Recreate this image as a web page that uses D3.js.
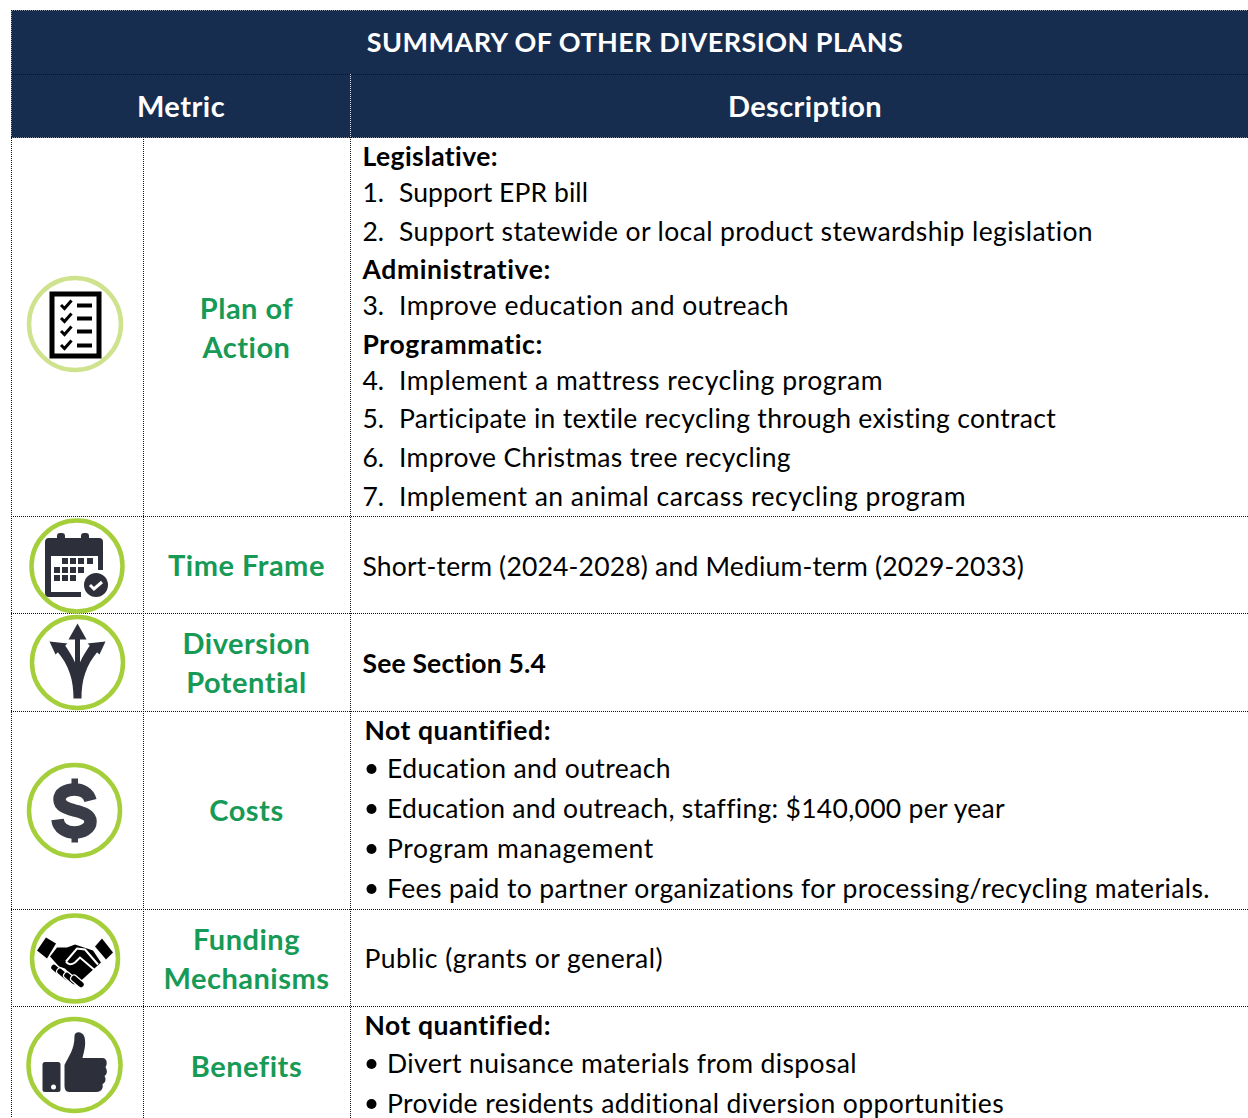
<!DOCTYPE html>
<html>
<head>
<meta charset="utf-8">
<script src="https://cdn.jsdelivr.net/npm/d3@7"></script>
<style>
  html, body { margin: 0; padding: 0; background: #fff; overflow: hidden; }
  text { font-family: Lato, "Open Sans", sans-serif; font-variant-ligatures: none; }
</style>
</head>
<body>
<script>
// table content
const titleText = "SUMMARY OF OTHER DIVERSION PLANS";
const headerLabels = ["Metric", "Description"];
const rowNames = ["plan", "time", "diversion", "costs", "funding", "benefits"];
const metricLabels = [
  ["Plan of", "Action"],
  ["Time Frame"],
  ["Diversion", "Potential"],
  ["Costs"],
  ["Funding", "Mechanisms"],
  ["Benefits"]
];
const planLines = ["Legislative:", "Support EPR bill", "Support statewide or local product stewardship legislation",
  "Administrative:", "Improve education and outreach", "Programmatic:", "Implement a mattress recycling program",
  "Participate in textile recycling through existing contract", "Improve Christmas tree recycling",
  "Implement an animal carcass recycling program"];
const planMarkers = ["", "1.", "2.", "", "3.", "", "4.", "5.", "6.", "7."];
const timeLines = ["Short-term (2024-2028) and Medium-term (2029-2033)"];
const diversionLines = ["See Section 5.4"];
const costLines = ["Not quantified:", "Education and outreach", "Education and outreach, staffing: $140,000 per year",
  "Program management", "Fees paid to partner organizations for processing/recycling materials."];
const fundingLines = ["Public (grants or general)"];
const benefitLines = ["Not quantified:", "Divert nuisance materials from disposal", "Provide residents additional diversion opportunities"];
const boldLines = ["Legislative:", "Administrative:", "Programmatic:", "See Section 5.4", "Not quantified:"];

// layout
const W = 1248, H = 1118;
const navy = "#172d50", green = "#169a55", ring = "#a4cf3a", ink = "#2d303a";
const left = 11.5, colIcon = 143.5, colDesc = 350.5;
const titleTop = 10.5, headTop = 74.5, bodyTop = 137.5;
const rowTop = d3.scaleOrdinal().domain(rowNames).range([137.5, 516.5, 613.5, 711.5, 909.5, 1006.5]);
const metricX = 246.5;
const metricY = d3.scaleOrdinal().domain(rowNames).range([[309, 348], [566], [644, 683], [811], [940, 979], [1067]]);

// ys = line centres, ends = right edge of each line, so widths follow the reference font
const descRows = [
  {lines: planLines, ys: [157, 193, 232, 270, 306, 345, 381, 419, 458, 497], x: 362.5, tx: 399, markers: planMarkers,
    ends: [498, 588, 1093, 551, 789, 543, 883, 1056, 791, 966]},
  {lines: timeLines, ys: [567], x: 362.5, ends: [1024]},
  {lines: diversionLines, ys: [664], x: 362.5, ends: [546]},
  {lines: costLines, ys: [731, 769, 809, 849, 889], x: 364.5, tx: 387, bullets: true, ends: [551, 671, 1005, 654, 1210]},
  {lines: fundingLines, ys: [959], x: 364.5, ends: [663]},
  {lines: benefitLines, ys: [1026, 1064, 1104], x: 364.5, tx: 387, bullets: true, ends: [551, 857, 1004]}
];

const svg = d3.select("body").append("svg").attr("width", W).attr("height", H).style("display", "block");

// header bands
svg.append("rect").attr("x", left).attr("y", titleTop).attr("width", W - left).attr("height", bodyTop - titleTop).attr("fill", navy);

// dotted rules, dash starts on a whole pixel so the dots stay crisp
function rule(x1, y1, x2, y2, color) {
  svg.append("line")
    .attr("x1", y1 === y2 ? Math.floor(x1) : x1).attr("y1", x1 === x2 ? Math.floor(y1) : y1)
    .attr("x2", x2).attr("y2", y2)
    .attr("stroke", color || "#111").attr("stroke-width", 1).attr("stroke-dasharray", "1,1");
}
[titleTop, headTop, bodyTop].forEach(y => rule(left, y, W, y));
rowNames.slice(1).forEach(r => rule(left, rowTop(r), W, rowTop(r)));
rule(left, titleTop, left, H);
rule(colDesc, headTop, colDesc, bodyTop, "#dde");
rule(colDesc, bodyTop, colDesc, H);
rule(colIcon, bodyTop, colIcon, H);

// text helper
function label(x, y, str, size, weight, fill, anchor, spacing) {
  return svg.append("text").attr("x", x).attr("y", y).attr("dy", "0.35em")
    .attr("font-size", size).attr("font-weight", weight).attr("fill", fill)
    .attr("letter-spacing", spacing || 0)
    .attr("text-anchor", anchor || "start").text(str);
}
label(635, 43, titleText, 27, 700, "#fff", "middle", 0.45);
label(181, 107, headerLabels[0], 29, 700, "#fff", "middle", 0.5);
label(805, 107, headerLabels[1], 29, 700, "#fff", "middle", 0.4);

// metric names
rowNames.forEach((r, i) => {
  metricLabels[i].forEach((t, j) => label(metricX, metricY(r)[j], t, 29, 700, green, "middle", 0.5));
});

// description cells
descRows.forEach(row => {
  row.lines.forEach((t, i) => {
    const bold = boldLines.includes(t);
    const marker = row.markers ? row.markers[i] : "";
    if (marker) label(row.x, row.ys[i], marker, 26.5, 400, "#000");
    if (row.bullets && !bold) {
      svg.append("circle").attr("cx", row.x + 7).attr("cy", row.ys[i]).attr("r", 5).attr("fill", "#000");
    }
    const x = bold || !row.tx ? row.x : row.tx;
    const line = label(x, row.ys[i], t, 26.5, bold ? 700 : 400, "#000");
    const natural = line.node().getComputedTextLength();
    line.attr("letter-spacing", (row.ends[i] - x - natural) / t.length);
  });
});

// icons
function badge(cx, cy, r, color) {
  svg.append("circle").attr("cx", cx).attr("cy", cy).attr("r", r).attr("fill", "#fff")
    .attr("stroke", color || ring).attr("stroke-width", 4.5);
  return svg.append("g").attr("transform", `translate(${cx},${cy})`);
}

// checklist
const check = badge(75, 324, 46, "#cfe28e");
check.append("rect").attr("x", -23).attr("y", -30).attr("width", 47).attr("height", 62)
  .attr("fill", "#fff").attr("stroke", "#000").attr("stroke-width", 5);
[-19, -6, 7, 21].forEach(y => {
  check.append("path").attr("d", `M-14,${y} l3.5,3.5 l7,-8`).attr("fill", "none").attr("stroke", "#000").attr("stroke-width", 3);
  check.append("rect").attr("x", 2).attr("y", y - 1.5).attr("width", 15).attr("height", 4).attr("fill", "#000");
});

// calendar
const cal = badge(77, 566, 45.5);
cal.append("path").attr("d", "M-32,-24 a4,4 0 0 1 4,-4 h50 a4,4 0 0 1 4,4 v28 h-5 v-14 h-47 v36 h30 v5 h-32 a4,4 0 0 1 -4,-4 z").attr("fill", ink);
cal.append("rect").attr("x", -20).attr("y", -33).attr("width", 8).attr("height", 12).attr("rx", 3).attr("fill", ink);
cal.append("rect").attr("x", 4).attr("y", -33).attr("width", 8).attr("height", 12).attr("rx", 3).attr("fill", ink);
[[-15, -8], [-7, -8], [1, -8], [10, -8], [-23, 1], [-15, 1], [-7, 1], [1, 1], [-23, 9], [-15, 9], [-7, 9]].forEach(c => {
  cal.append("rect").attr("x", c[0]).attr("y", c[1]).attr("width", 6).attr("height", 6).attr("fill", ink);
});
cal.append("circle").attr("cx", 19).attr("cy", 19).attr("r", 12).attr("fill", ink);
cal.append("path").attr("d", "M13,19 l4,4 l8,-7").attr("fill", "none").attr("stroke", "#fff").attr("stroke-width", 3);

// arrows
const arrows = badge(77.5, 662.5, 45.5);
arrows.append("path").attr("d", "M-4,36 C-4,18 -8,3 -21,-12 L-13,-18 C-6,-8 -2,0 0,6 C2,0 6,-8 13,-18 L21,-12 C8,3 4,18 4,36 Z").attr("fill", ink);
arrows.append("rect").attr("x", -2.5).attr("y", -24).attr("width", 5).attr("height", 34).attr("fill", ink);
arrows.append("path").attr("d", "M0,-39 L9,-23 H-9 Z").attr("fill", ink);
arrows.append("path").attr("d", "M-28,-21 L-10,-19 L-22,-8 Z").attr("fill", ink);
arrows.append("path").attr("d", "M28,-21 L10,-19 L22,-8 Z").attr("fill", ink);

// dollar
const dollar = badge(74.5, 810.5, 45.5);
dollar.append("path").attr("d", "M16,-10 C14,-18 7,-21 0,-21 C-9,-21 -15,-17 -15,-11 C-15,-4 -7,-2 0,0 C8,2 16,4 16,11 C16,18 8,22 0,22 C-8,22 -16,18 -17,9")
  .attr("fill", "none").attr("stroke", "#3a3d47").attr("stroke-width", 12.5);
dollar.append("rect").attr("x", -3).attr("y", -32).attr("width", 6.5).attr("height", 10).attr("fill", "#3a3d47");
dollar.append("rect").attr("x", -3).attr("y", 22).attr("width", 6.5).attr("height", 10).attr("fill", "#3a3d47");

// handshake
const shake = badge(75, 958.5, 43);
shake.append("path").attr("d", "M-38,-8 L-29,-21 L-19,-15 L-28,0 Z").attr("fill", "#000");
shake.append("path").attr("d", "M38,-6 L27,-20 L20,-12 L31,1 Z").attr("fill", "#000");
shake.append("path").attr("d", "M-18,-11 L-8,-11 L0,-14 L18,-8 L26,4 L4,24 L-10,10 L-16,8 L-25,-2 Z").attr("fill", "#000");
shake.append("path").attr("d", "M-9,3 L2,-10 L10,-9 L23,6 M-9,3 Q-6,8 0,4 L5,-1 L19,11").attr("fill", "none").attr("stroke", "#fff").attr("stroke-width", 2);
[[-21, 9], [-15, 13], [-8, 17], [-1, 20]].forEach(p => {
  shake.append("line").attr("x1", p[0]).attr("y1", p[1]).attr("x2", p[0] + 7).attr("y2", p[1] + 6)
    .attr("stroke", "#fff").attr("stroke-width", 8).attr("stroke-linecap", "round");
  shake.append("line").attr("x1", p[0]).attr("y1", p[1]).attr("x2", p[0] + 7).attr("y2", p[1] + 6)
    .attr("stroke", "#000").attr("stroke-width", 5.5).attr("stroke-linecap", "round");
});

// thumb
const thumb = badge(74.5, 1065, 46);
thumb.append("rect").attr("x", -32).attr("y", -3).attr("width", 18).attr("height", 30).attr("rx", 2.5).attr("fill", ink);
thumb.append("circle").attr("cx", -21).attr("cy", 22).attr("r", 2.5).attr("fill", "#fff");
thumb.append("path").attr("d", "M-10,0 C-6,-9 0,-15 0,-29 C0,-34 8,-34 10,-28 C12,-20 9,-12 8,-7 H28 C33,-7 33,0 31,2 C33,6 33,9 30,11 C32,14 31,18 28,19 C29,23 27,27 22,27 H-5 C-9,27 -10,24 -10,20 Z").attr("fill", ink);
</script>
</body>
</html>
